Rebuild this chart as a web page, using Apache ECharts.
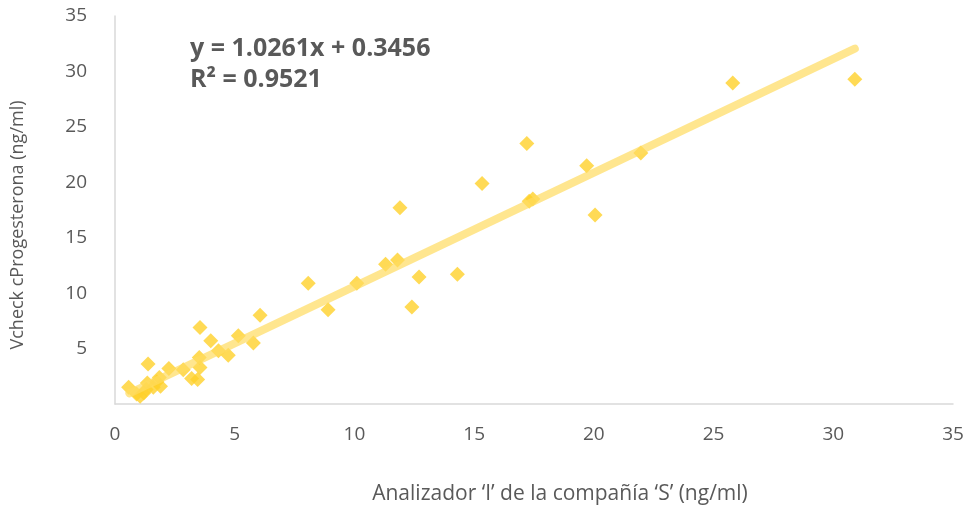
<!DOCTYPE html>
<html>
<head>
<meta charset="utf-8">
<script src="https://cdn.jsdelivr.net/npm/echarts@6/dist/echarts.min.js"></script>
<style>html,body{margin:0;padding:0;background:#fff}#c{width:971px;height:510px}</style>
</head>
<body>
<div id="c"></div>
<script>
const xValues = [30.9, 25.8, 21.96, 19.7, 20.05, 17.2, 17.3, 17.45, 15.33, 14.3, 11.9, 11.8, 11.3, 12.7, 12.4, 10.1, 8.07, 8.9, 6.06, 5.78, 5.15, 4.0, 3.55, 4.32, 4.73, 3.52, 3.55, 2.25, 2.85, 3.2, 3.45, 0.57, 0.9, 1.05, 1.3, 1.35, 1.6, 1.75, 1.9, 1.85, 1.38, 1.2];
const yValues = [29.3, 28.95, 22.64, 21.5, 17.05, 23.5, 18.3, 18.5, 19.9, 11.7, 17.7, 13.0, 12.6, 11.45, 8.75, 10.9, 10.9, 8.5, 8.0, 5.5, 6.15, 5.7, 6.9, 4.8, 4.4, 4.2, 3.3, 3.2, 3.1, 2.3, 2.2, 1.5, 0.9, 0.7, 1.3, 1.9, 1.5, 2.0, 1.6, 2.4, 3.6, 1.0];
const slope = 1.0261, intercept = 0.3456, rSquared = 0.9521;
const trendRange = [0.6, 30.9];
const xTicks = [0, 5, 10, 15, 20, 25, 30, 35];
const yTicks = [0, 5, 10, 15, 20, 25, 30, 35];

const points = xValues.map((x, i) => [x, yValues[i]]);
const trend = trendRange.map(x => [x, slope * x + intercept]);

const chart = echarts.init(document.getElementById('c'));
const font = '"Open Sans", "Noto Sans", sans-serif';
chart.setOption({
  animation: false,
  grid: { left: 115, right: 18, top: 16, bottom: 104 },
  title: {
    text: 'y = ' + slope.toFixed(4) + 'x + ' + intercept.toFixed(4) + '\nR² = ' + rSquared.toFixed(4),
    left: 185, top: 28,
    textStyle: { fontFamily: font, fontSize: 25, fontWeight: 'bold', color: '#595959', lineHeight: 31 }
  },
  xAxis: {
    type: 'value', min: xTicks[0], max: xTicks[xTicks.length - 1], interval: 5,
    name: 'Analizador ‘I’ de la compañía ‘S’ (ng/ml)',
    nameLocation: 'middle', nameGap: 80,
    nameTextStyle: { fontFamily: font, fontSize: 21, color: '#595959', padding: [0, 0, 0, 52] },
    axisLine: { lineStyle: { color: '#d9d9d9', width: 1.5 } },
    axisTick: { show: false },
    splitLine: { show: false },
    axisLabel: { fontFamily: font, fontSize: 19, color: '#595959', margin: 21 }
  },
  yAxis: {
    type: 'value', min: yTicks[0], max: yTicks[yTicks.length - 1], interval: 5,
    name: 'Vcheck cProgesterona (ng/ml)',
    nameLocation: 'middle', nameGap: 88,
    nameTextStyle: { fontFamily: font, fontSize: 18, color: '#595959', padding: [0, 30, 0, 0] },
    axisLine: { show: true, lineStyle: { color: '#d9d9d9', width: 1.5 } },
    axisTick: { show: false },
    splitLine: { show: false },
    axisLabel: { fontFamily: font, fontSize: 19, color: '#595959', margin: 28,
      formatter: v => v === 0 ? '' : String(v) }
  },
  series: [
    {
      type: 'scatter', data: points, symbol: 'diamond', symbolSize: 15,
      itemStyle: { color: '#FFD12A' }, z: 2
    },
    {
      type: 'line', data: trend, showSymbol: false, symbol: 'none',
      lineStyle: { color: 'rgba(255,220,95,0.7)', width: 8, cap: 'round' }, z: 3
    }
  ]
});
</script>
</body>
</html>
